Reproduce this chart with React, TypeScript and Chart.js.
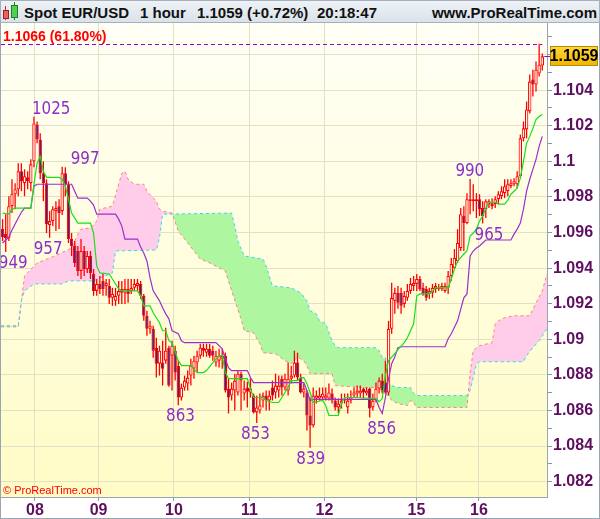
import React, { useEffect, useRef } from 'react';
import { Chart, registerables } from 'chart.js';

Chart.register(...registerables);

// ---------- data (hourly EUR/USD candles) ----------
const OPEN = [1.09619,1.09591,1.09569,1.09748,1.09815,1.09843,1.09944,1.09877,1.0991,1.09877,1.1,1.10207,1.10123,1.09933,1.09877,1.09642,1.09664,1.0972,1.09748,1.0972,1.09933,1.09871,1.09563,1.09524,1.09496,1.09384,1.09496,1.09395,1.09468,1.09367,1.09272,1.09311,1.09328,1.093,1.093,1.09233,1.09216,1.09244,1.09283,1.09261,1.09283,1.09272,1.09289,1.093,1.09311,1.09244,1.09132,1.09059,1.09059,1.08953,1.08863,1.08869,1.0888,1.08953,1.08908,1.08936,1.08852,1.08673,1.08729,1.08751,1.08796,1.08835,1.08869,1.08908,1.08953,1.08925,1.08947,1.08936,1.08869,1.0888,1.08891,1.08908,1.08723,1.08684,1.08712,1.08701,1.08807,1.08695,1.08729,1.08701,1.08684,1.08589,1.086,1.08656,1.08684,1.08656,1.08729,1.08701,1.08712,1.08779,1.08729,1.08712,1.08779,1.08796,1.08869,1.08785,1.08701,1.08701,1.08572,1.08516,1.08667,1.08667,1.08673,1.08667,1.08667,1.08695,1.08656,1.08617,1.08639,1.08656,1.08617,1.08656,1.08684,1.08695,1.08695,1.08723,1.08695,1.08723,1.08617,1.08656,1.08723,1.08768,1.08757,1.08701,1.09059,1.09216,1.09261,1.09261,1.09199,1.09233,1.09272,1.093,1.09311,1.09339,1.09289,1.09283,1.09255,1.09261,1.09283,1.09283,1.09283,1.09272,1.09289,1.09356,1.09401,1.0944,1.09513,1.09692,1.09653,1.09776,1.09776,1.09776,1.09787,1.09737,1.09731,1.09759,1.09765,1.09759,1.09787,1.09804,1.09821,1.09832,1.0986,1.09871,1.09871,1.09916,1.10129,1.10179,1.1028,1.10459,1.10431,1.10493,1.10538];
const HIGH = [1.09675,1.09703,1.09804,1.09899,1.09877,1.09989,1.09989,1.09955,1.09944,1.10011,1.1025,1.10224,1.10157,1.1,1.09899,1.0972,1.09748,1.09776,1.09787,1.0997,1.09966,1.09888,1.09597,1.09552,1.09524,1.09563,1.09524,1.09496,1.09496,1.09395,1.09339,1.09356,1.09367,1.09339,1.09339,1.09289,1.09289,1.09328,1.09328,1.09339,1.09339,1.09339,1.09339,1.09339,1.09328,1.09255,1.0916,1.09104,1.09076,1.09009,1.08964,1.08992,1.09065,1.08964,1.08992,1.08964,1.0888,1.08751,1.08796,1.08824,1.08891,1.08908,1.08936,1.08975,1.08975,1.08975,1.08975,1.08964,1.08936,1.08947,1.08947,1.08925,1.08779,1.08757,1.08807,1.08824,1.08818,1.08768,1.08762,1.08779,1.08695,1.08684,1.08695,1.08701,1.08712,1.08712,1.08768,1.08807,1.08796,1.08796,1.08807,1.08869,1.08852,1.08936,1.08925,1.08807,1.08751,1.08712,1.08673,1.08729,1.08712,1.08729,1.08729,1.08729,1.08751,1.08723,1.08673,1.08667,1.08695,1.08695,1.08695,1.08712,1.08729,1.0874,1.0874,1.08729,1.08729,1.08729,1.08695,1.08757,1.08785,1.08807,1.0888,1.09104,1.09317,1.09289,1.093,1.09289,1.09272,1.09311,1.09345,1.09356,1.09367,1.09356,1.09317,1.093,1.09289,1.09311,1.09317,1.09311,1.09317,1.09317,1.09384,1.09457,1.09507,1.09619,1.09737,1.09748,1.09821,1.099,1.09871,1.09821,1.09815,1.09776,1.09787,1.09787,1.09793,1.09804,1.09832,1.0986,1.09899,1.09899,1.09899,1.09905,1.09944,1.10151,1.10224,1.10336,1.10487,1.10515,1.1056,1.1066,1.10605];
const LOW = [1.09552,1.0949,1.09552,1.09709,1.09731,1.09804,1.09832,1.09804,1.09843,1.09832,1.09966,1.10101,1.09899,1.09776,1.09597,1.0957,1.09636,1.09608,1.09619,1.09698,1.09804,1.09541,1.09468,1.09406,1.09356,1.09339,1.09356,1.09373,1.09339,1.09244,1.09244,1.09255,1.09244,1.09244,1.09199,1.09188,1.09188,1.09199,1.09199,1.09199,1.09205,1.09255,1.09272,1.09272,1.09227,1.09104,1.0902,1.09031,1.08897,1.08785,1.08796,1.0874,1.08863,1.08734,1.08712,1.08768,1.0863,1.08656,1.08712,1.08712,1.0874,1.08779,1.08813,1.08891,1.08902,1.08902,1.08897,1.0888,1.08846,1.08841,1.08835,1.08701,1.08583,1.08656,1.086,1.08684,1.086,1.08656,1.08617,1.08673,1.08583,1.0853,1.08583,1.08617,1.086,1.086,1.08656,1.08667,1.08673,1.08684,1.08712,1.08684,1.08751,1.08785,1.08768,1.08695,1.08673,1.08488,1.0839,1.08505,1.08639,1.08656,1.08656,1.08656,1.08656,1.08639,1.086,1.08583,1.08611,1.08639,1.08583,1.08639,1.08673,1.08673,1.08673,1.08667,1.08684,1.0856,1.086,1.08645,1.08695,1.08695,1.08695,1.08684,1.09031,1.09143,1.09171,1.09143,1.09177,1.09216,1.09255,1.09272,1.09272,1.09272,1.09244,1.09216,1.09227,1.09233,1.09261,1.09272,1.09272,1.09261,1.09255,1.09328,1.09395,1.09429,1.09496,1.09496,1.09647,1.09703,1.0972,1.09681,1.09692,1.0965,1.09681,1.09737,1.09731,1.09737,1.09759,1.09787,1.09793,1.09804,1.09849,1.0986,1.09849,1.09905,1.10112,1.10129,1.10269,1.10364,1.10392,1.10476,1.1051];
const CLOSE = [1.09574,1.09569,1.09748,1.09815,1.09843,1.09944,1.09888,1.09916,1.09888,1.09983,1.10213,1.10123,1.09933,1.09877,1.09647,1.09664,1.09731,1.09737,1.09709,1.09933,1.09871,1.09563,1.09524,1.09429,1.09384,1.09496,1.09395,1.09468,1.09373,1.09272,1.09311,1.09283,1.09283,1.09317,1.09233,1.09255,1.09244,1.09272,1.09261,1.09283,1.09255,1.09289,1.09311,1.09317,1.09244,1.09132,1.09059,1.09076,1.08936,1.08863,1.08936,1.08835,1.08936,1.0874,1.08964,1.08813,1.08673,1.08729,1.08768,1.08785,1.08852,1.0888,1.08908,1.08953,1.08936,1.08947,1.08908,1.08908,1.08908,1.08908,1.08908,1.08712,1.08673,1.08723,1.08768,1.08807,1.08768,1.08723,1.08706,1.08723,1.08589,1.08617,1.08628,1.08684,1.08656,1.08684,1.08684,1.0874,1.0874,1.08729,1.08779,1.08779,1.08796,1.08869,1.08785,1.08701,1.08723,1.08572,1.08516,1.08684,1.08684,1.08684,1.08695,1.08684,1.08701,1.08656,1.08617,1.08639,1.08656,1.08667,1.08656,1.08673,1.08701,1.08712,1.08712,1.08701,1.08712,1.08611,1.08656,1.08723,1.08768,1.08712,1.08701,1.09059,1.09233,1.09261,1.09205,1.09188,1.09244,1.09272,1.09311,1.09317,1.09339,1.09283,1.09255,1.09233,1.09272,1.09289,1.093,1.09289,1.093,1.093,1.09356,1.09423,1.09457,1.09541,1.09703,1.09653,1.09787,1.09787,1.09787,1.09787,1.09731,1.09692,1.09776,1.09776,1.09748,1.09787,1.09815,1.09832,1.0986,1.09871,1.09877,1.09888,1.09916,1.10129,1.10185,1.10291,1.10448,1.10431,1.10515,1.10543,1.1059];

// Ichimoku lines: [bar index, price]
const TENKAN: [number, number][] = [[0,1.09709],[2,1.09703],[3,1.09731],[4,1.09737],[9,1.09737],[10,1.09871],[11,1.09989],[12,1.10028],[13,1.09944],[14,1.0991],[18,1.0991],[19,1.09899],[20,1.0986],[21,1.09787],[22,1.09709],[24,1.09653],[28,1.09653],[29,1.09597],[30,1.09412],[31,1.09373],[34,1.09367],[35,1.09339],[37,1.09283],[38,1.09272],[43,1.09272],[44,1.09244],[45,1.09188],[47,1.09188],[48,1.09149],[50,1.09093],[51,1.09048],[52,1.09048],[53,1.08992],[54,1.08981],[56,1.0888],[57,1.08852],[60,1.08852],[61,1.08835],[62,1.08813],[64,1.08813],[65,1.08824],[67,1.08869],[69,1.08908],[70,1.08908],[71,1.08813],[72,1.08779],[78,1.08779],[79,1.08723],[80,1.08673],[83,1.08673],[84,1.08656],[86,1.08645],[88,1.08645],[89,1.08673],[90,1.08701],[91,1.08729],[92,1.08768],[94,1.08768],[95,1.08785],[96,1.08785],[97,1.08751],[98,1.08701],[99,1.08645],[102,1.08656],[103,1.08628],[104,1.08572],[107,1.08572],[108,1.08639],[109,1.08673],[112,1.08673],[119,1.08667],[120,1.0865],[121,1.08667],[122,1.08796],[123,1.0888],[125,1.08919],[126,1.08942],[128,1.08981],[129,1.09009],[131,1.09087],[132,1.09244],[133,1.09255],[136,1.09255],[137,1.09272],[138,1.09289],[142,1.09289],[143,1.09339],[144,1.09395],[145,1.0944],[147,1.09479],[148,1.09496],[149,1.0958],[150,1.09597],[151,1.09619],[152,1.09664],[153,1.09692],[154,1.09737],[155,1.0977],[157,1.0977],[158,1.09759],[160,1.09759],[161,1.09782],[162,1.09815],[164,1.09849],[165,1.09905],[166,1.1],[167,1.10101],[168,1.1014],[169,1.10185],[170,1.10235],[171,1.10252],[172,1.10263]];
const KIJUN: [number, number][] = [[0,1.09541],[2,1.09574],[3,1.09614],[5,1.09681],[6,1.09714],[7,1.09737],[9,1.09737],[10,1.0986],[11,1.09871],[22,1.09871],[23,1.09832],[24,1.09793],[27,1.09793],[28,1.09776],[29,1.09754],[30,1.09703],[36,1.09703],[37,1.09675],[38,1.09636],[39,1.09563],[43,1.09563],[44,1.09518],[45,1.09485],[46,1.0944],[47,1.09345],[48,1.09272],[50,1.09216],[51,1.09177],[52,1.09143],[53,1.09115],[54,1.09048],[56,1.09031],[57,1.08992],[58,1.08981],[68,1.08981],[70,1.08947],[71,1.08891],[72,1.08841],[73,1.08824],[78,1.08824],[79,1.08785],[80,1.08757],[96,1.08757],[97,1.08712],[98,1.08656],[99,1.08662],[119,1.08662],[120,1.08617],[121,1.08583],[122,1.08673],[123,1.08779],[124,1.08863],[125,1.08902],[126,1.08953],[127,1.08958],[141,1.08958],[142,1.09003],[143,1.09031],[145,1.09104],[147,1.09233],[148,1.09255],[149,1.09468],[150,1.09496],[151,1.09513],[152,1.09524],[153,1.09541],[154,1.09558],[162,1.09558],[163,1.09591],[164,1.09619],[165,1.09653],[166,1.09731],[167,1.09832],[168,1.09899],[169,1.09955],[170,1.10011],[171,1.10084],[172,1.1014]];
const SPAN_A: [number, number][] = [[-0.5,1.0907],[5,1.0907],[6,1.09216],[7,1.09356],[11,1.09429],[15,1.09457],[18,1.09479],[22,1.09513],[24,1.09591],[25,1.09619],[28,1.09625],[30,1.09664],[31,1.09731],[35,1.09748],[37,1.09871],[38,1.09933],[39,1.09944],[40,1.09899],[42,1.09871],[45,1.09871],[46,1.09832],[49,1.09776],[50,1.09731],[51,1.0972],[54,1.09709],[56,1.09608],[59,1.09541],[63,1.09451],[66,1.09429],[71,1.09384],[73,1.09272],[76,1.09115],[77,1.09048],[80,1.09037],[82,1.08975],[83,1.08925],[87,1.08919],[90,1.0888],[92,1.08863],[94,1.08902],[96,1.0888],[97,1.08852],[98,1.08807],[105,1.08807],[106,1.0874],[115,1.08729],[120,1.08729],[121,1.08701],[123,1.08684],[124,1.08656],[126,1.08639],[129,1.08628],[130,1.08656],[131,1.08645],[132,1.08617],[148,1.08617],[149,1.08813],[150,1.08936],[151,1.08953],[152,1.08964],[156,1.08981],[157,1.09087],[158,1.09104],[160,1.09121],[163,1.09132],[168,1.09132],[170,1.09205],[172,1.09272],[173.5,1.09367]];
const SPAN_B: [number, number][] = [[-0.5,1.09076],[5,1.09076],[6,1.09216],[7,1.09272],[10,1.09311],[19,1.09311],[21,1.09328],[29,1.09328],[35,1.09373],[36,1.09496],[49,1.09502],[50,1.09569],[51,1.09703],[73,1.09709],[74,1.09636],[75,1.09552],[77,1.09468],[83,1.09451],[84,1.09412],[86,1.093],[92,1.09289],[95,1.09261],[97,1.09216],[98,1.0916],[100,1.09143],[101,1.09104],[103,1.09087],[105,1.08992],[106,1.08964],[107,1.08953],[119,1.08953],[120,1.08936],[121,1.08897],[122,1.08897],[123,1.08757],[124,1.0874],[126,1.08729],[130,1.08729],[131,1.08695],[132,1.08684],[148,1.08684],[149,1.08712],[150,1.08785],[151,1.08863],[152,1.08874],[166,1.08874],[167,1.08908],[169,1.08953],[171,1.08992],[173.5,1.09059]];

const DAY_TICKS = [10.3, 30.6, 54.6, 78.7, 102.6, 131.9, 151.8];
const DAY_LABELS = ['08', '09', '10', '11', '12', '15', '16'];
const Y_TICKS = [1.082,1.083,1.084,1.085,1.086,1.087,1.088,1.089,1.09,1.091,1.092,1.093,1.094,1.095,1.096,1.097,1.098,1.099,1.1,1.101,1.102,1.103,1.104,1.105,1.106,1.107];
const Y_MIN = 1.08114;
const Y_MAX = 1.10777;
const X_MIN = -0.5;
const X_MAX = 173.5;

const FIB_LEVEL = 1.1066;
const FIB_TEXT = '1.1066 (61.80%)';
const LAST_PRICE = 1.1059;
const LAST_TEXT = '1.1059';

const EXT_TEXT = ['1025', '997', '957', '949', '863', '853', '839', '856', '990', '965'];
const EXT_X = [15.5, 26.3, 14.5, 3.4, 56.7, 80.6, 98.2, 120.8, 148.9, 155.0];
const EXT_P = [1.1025, 1.0997, 1.0957, 1.0949, 1.0863, 1.0853, 1.0839, 1.0856, 1.099, 1.0965];
const EXT_ABOVE = [true, true, false, false, false, false, false, false, true, false];

const AXIS_FONT = '"Liberation Sans Narrow", "Arial Narrow", "Liberation Sans", Arial, sans-serif';
const AXIS_COLOR = '#5e0f5e';
const GRID = '#e3e0c4';

export default function App() {
  const ref = useRef<HTMLCanvasElement | null>(null);

  useEffect(() => {
    const canvas = ref.current;
    if (!canvas) return;
    const idx = OPEN.map((_, i) => i);
    const isUp = idx.map((i) => CLOSE[i] >= OPEN[i]);

    const bgPlugin = {
      id: 'bgPlugin',
      beforeDraw(chart: any) {
        const { ctx, chartArea: a, width, height } = chart;
        ctx.save();
        ctx.fillStyle = '#ffffff';
        ctx.fillRect(0, 0, width, height);
        const g = ctx.createLinearGradient(0, a.top, 0, a.bottom);
        g.addColorStop(0, '#fffff6');
        g.addColorStop(1, '#fffcc6');
        ctx.fillStyle = g;
        ctx.fillRect(a.left, a.top, a.right - a.left, a.bottom - a.top);
        ctx.restore();
      },
    };

    const overlayPlugin = {
      id: 'overlayPlugin',
      afterDraw(chart: any) {
        const { ctx, chartArea: a } = chart;
        const xs = chart.scales.x;
        const ys = chart.scales.y;
        ctx.save();
        ctx.beginPath();
        ctx.rect(a.left, a.top, a.right - a.left, a.bottom - a.top);
        ctx.clip();
        // fibonacci level
        const yf = Math.round(ys.getPixelForValue(FIB_LEVEL)) + 0.5;
        ctx.strokeStyle = '#9a00d0';
        ctx.lineWidth = 1;
        ctx.setLineDash([4, 3]);
        ctx.beginPath();
        ctx.moveTo(a.left, yf);
        ctx.lineTo(xs.getPixelForValue(OPEN.length - 1), yf);
        ctx.stroke();
        ctx.setLineDash([]);
        ctx.fillStyle = '#ff0000';
        ctx.font = 'bold 14px "Liberation Sans", Arial, sans-serif';
        ctx.textAlign = 'left';
        ctx.textBaseline = 'alphabetic';
        ctx.fillText(FIB_TEXT, a.left + 2, yf - 4);
        // high / low labels
        ctx.fillStyle = '#8b2fc9';
        ctx.font = '18px "DejaVu Sans", Verdana, sans-serif';
        ctx.textAlign = 'center';
        EXT_TEXT.forEach((t, k) => {
          const px = xs.getPixelForValue(EXT_X[k]);
          const py = ys.getPixelForValue(EXT_P[k]);
          const by = EXT_ABOVE[k] ? py - 3 : py + 16;
          ctx.save();
          ctx.translate(px, by);
          ctx.scale(0.84, 1);
          ctx.fillText(t, 0, 0);
          ctx.restore();
        });
        // copyright
        ctx.fillStyle = '#ff0000';
        ctx.font = '11px "Liberation Sans", Arial, sans-serif';
        ctx.textAlign = 'left';
        ctx.fillText('\u00a9 ProRealTime.com', a.left + 2, a.bottom - 3);
        ctx.restore();

        // last price tag on the right axis
        const yl = Math.round(ys.getPixelForValue(LAST_PRICE));
        ctx.save();
        ctx.strokeStyle = '#9a00d0';
        ctx.lineWidth = 1;
        ctx.beginPath();
        ctx.moveTo(xs.getPixelForValue(OPEN.length - 1) + 2, yl + 0.5);
        ctx.lineTo(550, yl + 0.5);
        ctx.stroke();
        const g = ctx.createLinearGradient(0, yl - 10, 0, yl + 10);
        g.addColorStop(0, '#ffd83a');
        g.addColorStop(1, '#f0b400');
        ctx.fillStyle = g;
        ctx.fillRect(550, yl - 10, 48, 20);
        ctx.strokeStyle = '#b88c00';
        ctx.strokeRect(550.5, yl - 9.5, 47, 19);
        ctx.fillStyle = '#000000';
        ctx.font = 'bold 16px ' + AXIS_FONT;
        ctx.textAlign = 'center';
        ctx.textBaseline = 'middle';
        ctx.fillText(LAST_TEXT, 574, yl + 1);
        // outer frame
        ctx.strokeStyle = '#9aa5b1';
        ctx.strokeRect(0.5, 0.5, chart.width - 1, chart.height - 1);
        ctx.restore();
      },
    };

    const chart = new Chart(canvas, {
      type: 'bar',
      data: {
        datasets: [
          {
            type: 'line',
            label: 'Senkou A',
            data: SPAN_A.map(([x, y]) => ({ x, y })),
            borderColor: '#ff8080',
            borderWidth: 1,
            borderDash: [3, 3],
            pointRadius: 0,
            tension: 0,
            fill: { target: 1, above: '#ffcdea', below: '#aef7a0' },
            order: 10,
          },
          {
            type: 'line',
            label: 'Senkou B',
            data: SPAN_B.map(([x, y]) => ({ x, y })),
            borderColor: '#33d8f0',
            borderWidth: 1,
            borderDash: [3, 3],
            pointRadius: 0,
            tension: 0,
            fill: false,
            order: 9,
          },
          {
            type: 'bar',
            label: 'wick',
            data: idx.map((i) => ({ x: i, y: [LOW[i], HIGH[i]] })),
            backgroundColor: '#ff0000',
            barThickness: 1.3,
            grouped: false,
            inflateAmount: 0,
            order: 6,
          },
          {
            type: 'bar',
            label: 'body',
            data: idx.map((i) => ({ x: i, y: [OPEN[i], CLOSE[i]] })),
            backgroundColor: idx.map((i) => (isUp[i] ? '#fffbe6' : '#3a2684')),
            borderColor: '#ff0000',
            borderWidth: 1.1,
            borderSkipped: false,
            barThickness: 3.4,
            grouped: false,
            inflateAmount: 0,
            order: 5,
          },
          {
            type: 'line',
            label: 'Kijun',
            data: KIJUN.map(([x, y]) => ({ x, y })),
            borderColor: '#9a30d0',
            borderWidth: 1.2,
            pointRadius: 0,
            tension: 0,
            fill: false,
            order: 2,
          },
          {
            type: 'line',
            label: 'Tenkan',
            data: TENKAN.map(([x, y]) => ({ x, y })),
            borderColor: '#18e018',
            borderWidth: 1.2,
            pointRadius: 0,
            tension: 0,
            fill: false,
            order: 1,
          },
        ],
      } as any,
      options: {
        responsive: false,
        animation: false,
        events: [],
        layout: { padding: { top: 23, left: 1, right: 0, bottom: 0 } },
        plugins: { legend: { display: false }, tooltip: { enabled: false }, title: { display: false } },
        scales: {
          x: {
            type: 'linear',
            min: X_MIN,
            max: X_MAX,
            offset: false,
            afterFit: (s: any) => {
              s.height = 22;
            },
            afterBuildTicks: (s: any) => {
              s.ticks = DAY_TICKS.map((v) => ({ value: v }));
            },
            ticks: {
              autoSkip: false,
              maxRotation: 0,
              padding: 0,
              color: AXIS_COLOR,
              font: { family: AXIS_FONT, size: 16, weight: 'bold' },
              callback: (_v: any, i: number) => DAY_LABELS[i],
            },
            grid: { color: GRID, tickColor: '#8d96a0', tickLength: 4, offset: false },
            border: { color: '#9aa5b1' },
          },
          y: {
            type: 'linear',
            position: 'right',
            min: Y_MIN,
            max: Y_MAX,
            afterFit: (s: any) => {
              s.width = 53;
            },
            afterBuildTicks: (s: any) => {
              s.ticks = Y_TICKS.map((v) => ({ value: v }));
            },
            ticks: {
              autoSkip: false,
              padding: 1,
              color: AXIS_COLOR,
              font: { family: AXIS_FONT, size: 16, weight: 'bold' },
              callback: (v: any) => {
                const m = Math.round(Number(v) * 1000);
                return m % 2 === 0 ? String(Number((m / 1000).toFixed(3))) : '';
              },
            },
            grid: {
              color: (c: any) => {
                const m = Math.round((c.tick ? c.tick.value : 0) * 1000);
                return m % 2 === 0 ? GRID : 'rgba(0,0,0,0)';
              },
              tickColor: '#8d96a0',
              tickLength: 5,
            },
            border: { color: '#9aa5b1' },
          },
        },
      } as any,
      plugins: [bgPlugin, overlayPlugin],
    });
    return () => chart.destroy();
  }, []);

  const hdrText: React.CSSProperties = {
    position: 'absolute',
    top: 3,
    lineHeight: '17px',
    fontSize: 15,
    fontWeight: 'bold',
    color: '#111',
    whiteSpace: 'nowrap',
  };

  return (
    <div
      style={{
        position: 'absolute',
        left: 0,
        top: 0,
        width: 600,
        height: 519,
        overflow: 'hidden',
        background: '#fff',
        fontFamily: '"Liberation Sans", Arial, sans-serif',
      }}
    >
      <canvas ref={ref} width={600} height={519} style={{ position: 'absolute', left: 0, top: 0 }} />
      <div
        style={{
          position: 'absolute',
          left: 0,
          top: 0,
          width: 598,
          height: 21,
          background: 'linear-gradient(#eef2f6, #dae2ea)',
          border: '1px solid #a4b0bc',
        }}
      >
        <div style={{ position: 'absolute', left: 4, top: 5, width: 1, height: 14, background: '#c03030' }} />
        <div style={{ position: 'absolute', left: 2, top: 9, width: 4, height: 7, background: '#f06060', border: '1px solid #a02020' }} />
        <div style={{ position: 'absolute', left: 13, top: 1, width: 1, height: 18, background: '#208020' }} />
        <div style={{ position: 'absolute', left: 10, top: 4, width: 5, height: 11, background: '#50d050', border: '1px solid #208020' }} />
        <span style={{ ...hdrText, left: 23 }}>Spot EUR/USD</span>
        <span style={{ ...hdrText, left: 139 }}>1 hour</span>
        <span style={{ ...hdrText, left: 196 }}>1.1059 (+0.72%)</span>
        <span style={{ ...hdrText, left: 316 }}>20:18:47</span>
        <span style={{ ...hdrText, right: 2 }}>www.ProRealTime.com</span>
      </div>
    </div>
  );
}
